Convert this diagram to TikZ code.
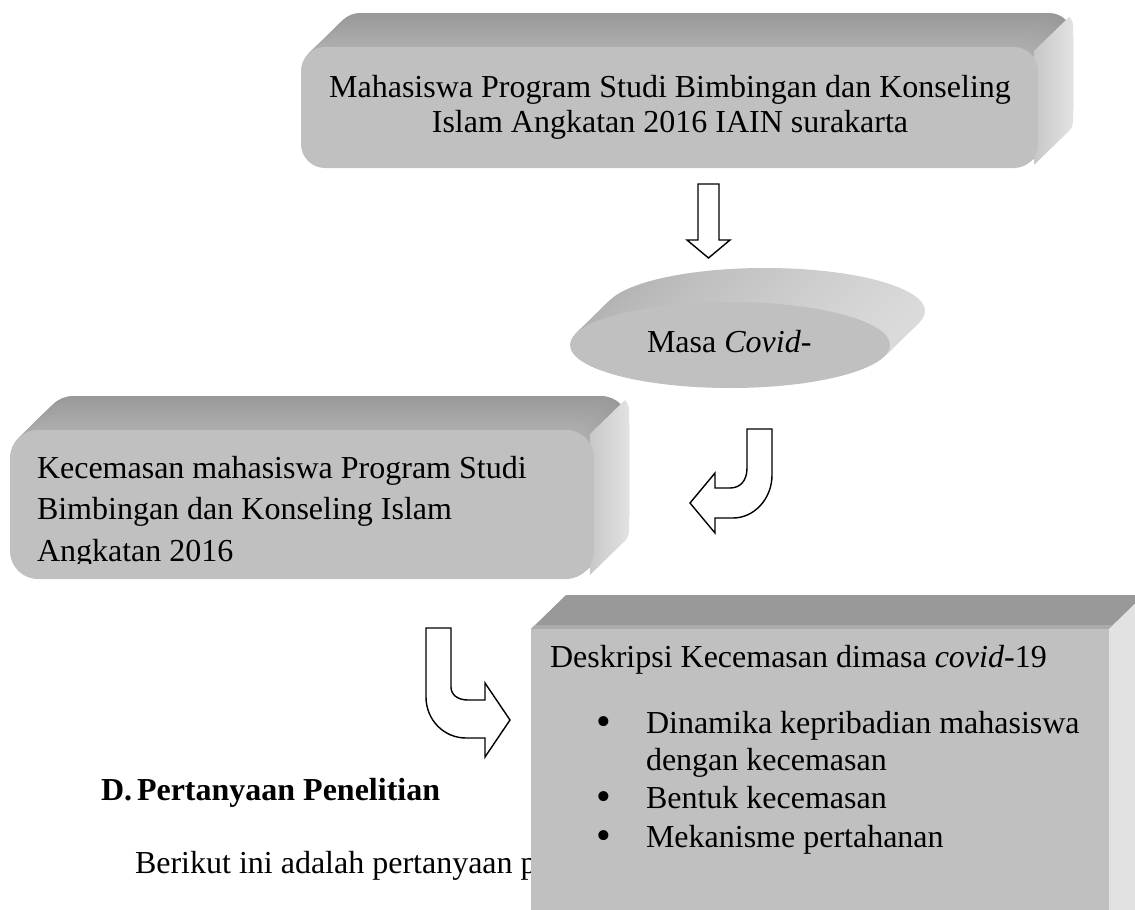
\documentclass[tikz,border=0pt]{standalone}
\usepackage{fontspec}
\setmainfont{Liberation Serif}
\definecolor{frontgray}{HTML}{C0C0C0}
\definecolor{topgray}{HTML}{999999}
\definecolor{topband}{HTML}{ABABAB}
\definecolor{sidelight}{HTML}{E2E2E2}
\definecolor{sidedark}{HTML}{C8C8C8}
\definecolor{ellL}{HTML}{B2B2B2}
\definecolor{ellM}{HTML}{989898}
\definecolor{ellR}{HTML}{DADADA}
\newcommand{\roundbevel}[5]{%
  \foreach \i in {34,33,...,1}{%
    \pgfmathsetmacro{\p}{40-8*(34-\i)/33}%
    \fill[black!\p, rounded corners=#5] ({#1+\i*35/34},{#2-\i}) rectangle ({#3+\i*35/34},{#4-\i});
  }%
  \shade[left color=sidedark, right color=sidelight]
    ({#3-#5+0.7071*#5},{#2+#5-0.7071*#5}) -- ++(35,-34)
    arc[start angle=-45, end angle=0, radius=#5] -- ({#3+35},{#4-#5-34})
    arc[start angle=0, end angle=45, radius=#5]
    -- ({#3-#5+0.7071*#5},{#4-#5+0.7071*#5}) -- cycle;
  \fill[frontgray, rounded corners=#5] (#1,#2) rectangle (#3,#4);
}
\begin{document}
\begin{tikzpicture}[x=0.5pt, y=-0.5pt, font=\fontsize{16}{20}\selectfont,
  arrowshape/.style={draw=black, line width=0.7pt, fill=white, line join=miter},
  txt/.style={inner sep=0pt, outer sep=0pt, text=black},
  bul/.style={txt, anchor=base, font=\fontsize{21}{24}\selectfont}]
\useasboundingbox (0,0) rectangle (1135,910);
\begin{scope}
\clip (0,0) rectangle (1135,910);

% ---------- top box ----------
\roundbevel{301}{47}{1038}{168}{12}
\node[txt, anchor=base] (t1) at (670,97) {Mahasiswa Program Studi Bimbingan dan Konseling};
\node[txt, anchor=base] (t2) at (670,132) {Islam Angkatan 2016 IAIN surakarta};

% ---------- down arrow ----------
\draw[arrowshape] (698,184) -- (719,184) -- (719,240) -- (730,240) -- (708.5,258)
  -- (687,240) -- (698,240) -- cycle;

% ---------- ellipse ----------
\foreach \i in {34,33,...,1}{%
  \shade[left color=ellL, middle color=ellM, right color=ellR]
    ({730+\i*35/34},{345-\i}) ellipse [x radius=160, y radius=43];
}
\fill[frontgray] (730,345) ellipse [x radius=160, y radius=43];
\node[txt, anchor=base west] (masa) at (647,352) {Masa \textit{Covid}-};

% ---------- middle box ----------
\roundbevel{10}{430}{594}{579}{14}
\begin{scope}
\clip (10,420) rectangle (600,563);
\node[txt, anchor=base west] (k1) at (37,478) {Kecemasan mahasiswa Program Studi};
\node[txt, anchor=base west] (k2) at (37,519) {Bimbingan dan Konseling Islam};
\node[txt, anchor=base west] (k3) at (37,561) {Angkatan 2016};
\end{scope}

% ---------- bent arrow 1 ----------
\draw[arrowshape] (747,429) -- (772,429) -- (772,475)
  .. controls (772,499) and (754,518) .. (733,518) -- (715,518) -- (715,533)
  -- (690,503) -- (715,473) -- (715,488) -- (730,488)
  .. controls (740,488) and (747,481) .. (747,468) -- cycle;

% ---------- bent arrow 2 ----------
\draw[arrowshape] (426,628) -- (451,628) -- (451,687)
  .. controls (451,695) and (458,700) .. (468,700) -- (485,700) -- (485,683)
  -- (510,720) -- (485,757) -- (485,738) -- (466,738)
  .. controls (444,738) and (426,720) .. (426,697) -- cycle;

% ---------- left text ----------
\node[txt, anchor=base west, font=\fontsize{16}{20}\selectfont\bfseries] (dh) at (101,800) {D.};
\node[txt, anchor=base west, font=\fontsize{16}{20}\selectfont\bfseries] (ph) at (137,800) {Pertanyaan Penelitian};
\node[txt, anchor=base west] (ber) at (135,873) {Berikut ini adalah pertanyaan p};

% ---------- bottom box ----------
\fill[topgray] (531,629) -- (566,595) -- (1144,595) -- (1109,629) -- cycle;
\fill[topband] (531,629) -- (535,625) -- (1113,625) -- (1109,629) -- cycle;
\fill[sidelight] (1109,629) -- (1144,595) -- (1144,920) -- (1109,920) -- cycle;
\fill[frontgray] (531,629) rectangle (1109,920);
\node[txt, anchor=base west] (desk) at (550,667) {Deskripsi Kecemasan dimasa \textit{covid}-19};
\node[bul] (b1) at (604,735) {•};
\node[txt, anchor=base west] (l1) at (646,733) {Dinamika kepribadian mahasiswa};
\node[txt, anchor=base west] (l1b) at (646,770) {dengan kecemasan};
\node[bul] (b2) at (604,810) {•};
\node[txt, anchor=base west] (l2) at (646,808) {Bentuk kecemasan};
\node[bul] (b3) at (604,849) {•};
\node[txt, anchor=base west] (l3) at (646,847) {Mekanisme pertahanan};
\end{scope}
\end{tikzpicture}
\end{document}
